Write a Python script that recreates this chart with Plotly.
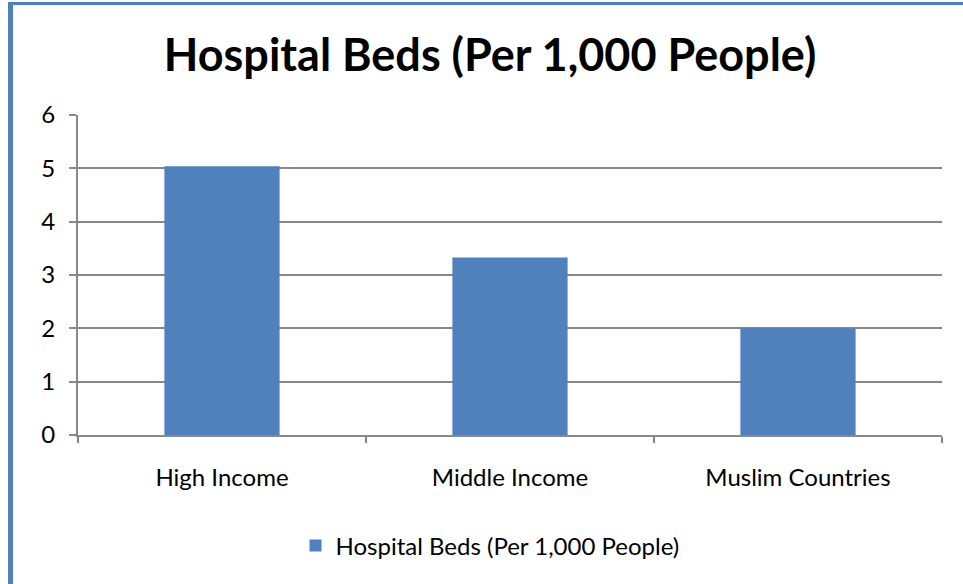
import plotly.graph_objects as go

categories = ["High Income", "Middle Income", "Muslim Countries"]
beds_per_1000 = [5.04, 3.33, 2.0]
series_name = "Hospital Beds (Per 1,000 People)"
chart_title = "Hospital Beds (Per 1,000 People)"
y_ticks = [0, 1, 2, 3, 4, 5, 6]

W, H = 963, 584
L, R, T, B = 78, 21, 115, 149
PW, PH = W - L - R, H - T - B

FONT = "Lato, 'Noto Sans', sans-serif"
BLUE = "#4F81BD"
GRID = "#888888"


def px_x(x):
    return (x - L) / PW


def px_y(y):
    return (H - B - y) / PH


fig = go.Figure()
fig.add_trace(go.Bar(
    x=categories,
    y=beds_per_1000,
    name=series_name,
    marker=dict(color=BLUE, line=dict(width=0)),
    showlegend=True,
))

# Frame accents along the left and top edges
shapes = [
    dict(type="rect", xref="paper", yref="paper",
         x0=px_x(8), x1=px_x(13), y0=px_y(2), y1=px_y(H + 5),
         fillcolor=BLUE, line=dict(width=0), layer="below"),
    dict(type="rect", xref="paper", yref="paper",
         x0=px_x(8), x1=px_x(W + 5), y0=px_y(2), y1=px_y(5),
         fillcolor=BLUE, line=dict(width=0), layer="below"),
]

fig.update_layout(
    width=W, height=H,
    margin=dict(l=L, r=R, t=T, b=B, pad=0),
    paper_bgcolor="white",
    plot_bgcolor="white",
    font=dict(family=FONT, size=24, color="#000000"),
    title=dict(
        text="<b>" + chart_title + "</b>",
        x=490 / W, xref="container", xanchor="center",
        y=1 - 55 / H, yref="container", yanchor="middle",
        font=dict(family=FONT, size=45, color="#000000"),
    ),
    bargap=0.6,
    showlegend=True,
    legend=dict(
        orientation="h",
        x=px_x(490), xanchor="center",
        y=px_y(546), yanchor="middle",
        font=dict(family=FONT, size=24),
        itemsizing="constant",
    ),
    shapes=shapes,
)

fig.update_xaxes(
    type="category",
    showline=True, linecolor=GRID, linewidth=2,
    ticks="outside", tickson="boundaries", ticklen=6,
    tickcolor=GRID, tickwidth=2,
    showgrid=False,
    tickfont=dict(family=FONT, size=24),
    ticklabelstandoff=20,
)
fig.update_yaxes(
    range=[0, 6],
    tickvals=y_ticks,
    showline=True, linecolor=GRID, linewidth=2,
    ticks="outside", ticklen=7, tickcolor=GRID, tickwidth=2,
    showgrid=True, gridcolor=GRID, gridwidth=2,
    zeroline=False,
    tickfont=dict(family=FONT, size=24),
    ticklabelstandoff=9,
)

fig.write_html("out.html")
